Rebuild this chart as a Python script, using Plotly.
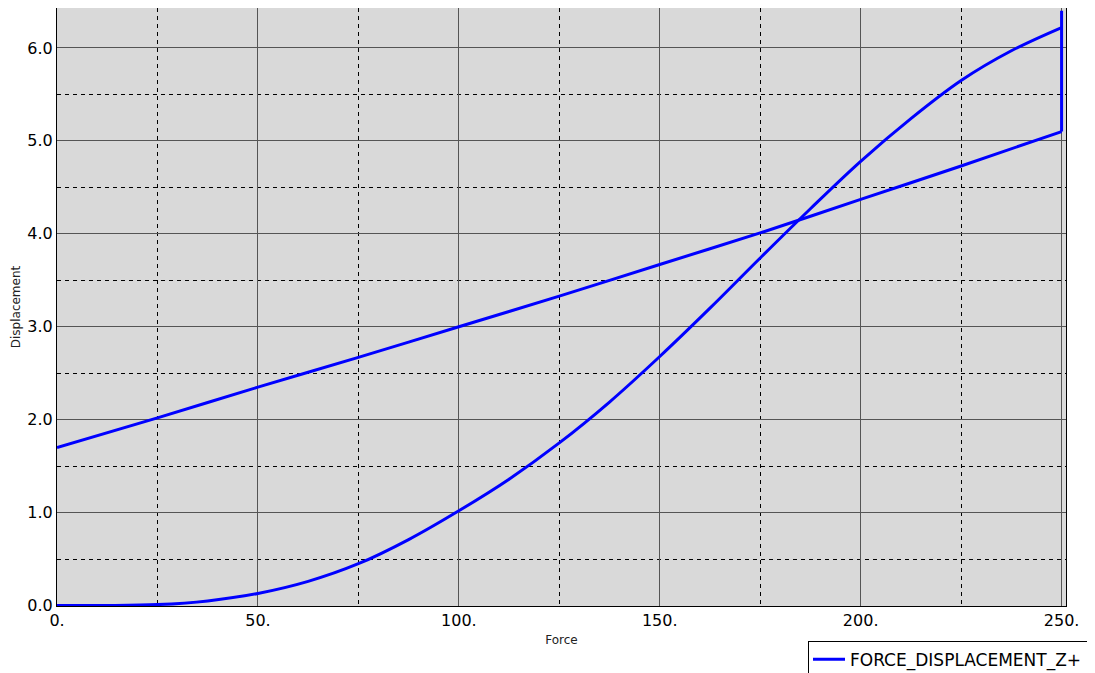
import plotly.graph_objects as go

# Curve branch (force vs displacement)
curve_force = [0, 12.5, 25, 37.5, 50, 62.5, 75, 87.5, 100, 112.5, 125, 137.5,
               150, 162.5, 175, 187.5, 200, 212.5, 225, 237.5, 250]
curve_disp = [0.00, 0.00, 0.01, 0.05, 0.13, 0.26, 0.45, 0.71, 1.02, 1.36, 1.75, 2.19,
              2.68, 3.20, 3.74, 4.27, 4.78, 5.24, 5.65, 5.97, 6.22]

# Vertical jump at the end
jump_force = [250, 250, 250]
jump_disp = [6.22, 6.40, 5.10]

# Return branch (nearly straight line back to origin force)
line_force = [250, 225, 200, 175, 150, 125, 100, 75, 50, 25, 0]
line_disp = [5.10, 4.73, 4.37, 4.01, 3.67, 3.33, 3.00, 2.67, 2.35, 2.02, 1.70]

x_ticks = [0, 50, 100, 150, 200, 250]
x_tick_labels = ["0.", "50.", "100.", "150.", "200.", "250."]
y_ticks = [0, 1, 2, 3, 4, 5, 6]
y_tick_labels = ["0.0", "1.0", "2.0", "3.0", "4.0", "5.0", "6.0"]

blue = "#0000ff"
name = "FORCE_DISPLACEMENT_Z+"

fig = go.Figure()
fig.add_trace(go.Scatter(
    x=curve_force, y=curve_disp, mode="lines", name=name, legendgroup="g",
    line=dict(color=blue, width=3, shape="spline", smoothing=1.0), showlegend=True,
))
fig.add_trace(go.Scatter(
    x=jump_force, y=jump_disp, mode="lines", name=name, legendgroup="g",
    line=dict(color=blue, width=3), showlegend=False,
))
fig.add_trace(go.Scatter(
    x=line_force, y=line_disp, mode="lines", name=name, legendgroup="g",
    line=dict(color=blue, width=3, shape="spline", smoothing=0.5), showlegend=False,
))

font = "DejaVu Sans, Verdana, sans-serif"
fig.update_layout(
    width=1095, height=673,
    margin=dict(l=49, r=37, t=0, b=75, autoexpand=False),
    paper_bgcolor="white",
    plot_bgcolor="#d9d9d9",
    font=dict(family=font, size=16, color="black"),
    showlegend=True,
    legend=dict(
        x=1.0218, xanchor="right", y=-0.058, yanchor="top",
        bgcolor="white", bordercolor="black", borderwidth=1,
        font=dict(family=font, size=17, color="black"),
        orientation="h", itemwidth=32,
    ),
)
fig.update_xaxes(
    range=[0, 251.1],
    tickvals=x_ticks, ticktext=x_tick_labels,
    showgrid=True, gridcolor="#555555", gridwidth=1,
    zeroline=False,
    showline=True, linecolor="black", linewidth=1, mirror=True,
    ticks="",
    minor=dict(dtick=25, tick0=0, showgrid=True, gridcolor="black",
               griddash="4px,4px", gridwidth=1),
    title=dict(text="Force", font=dict(family=font, size=12, color="#222222"), standoff=6),
)
fig.update_yaxes(
    range=[-0.005, 6.43],
    tickvals=y_ticks, ticktext=y_tick_labels,
    showgrid=True, gridcolor="#555555", gridwidth=1,
    zeroline=False,
    showline=True, linecolor="black", linewidth=1, mirror=True,
    ticks="",
    minor=dict(dtick=0.5, tick0=0, showgrid=True, gridcolor="black",
               griddash="4px,4px", gridwidth=1),
    title=dict(text="Displacement", font=dict(family=font, size=12, color="#222222"), standoff=4),
)

fig.write_html("out.html")
